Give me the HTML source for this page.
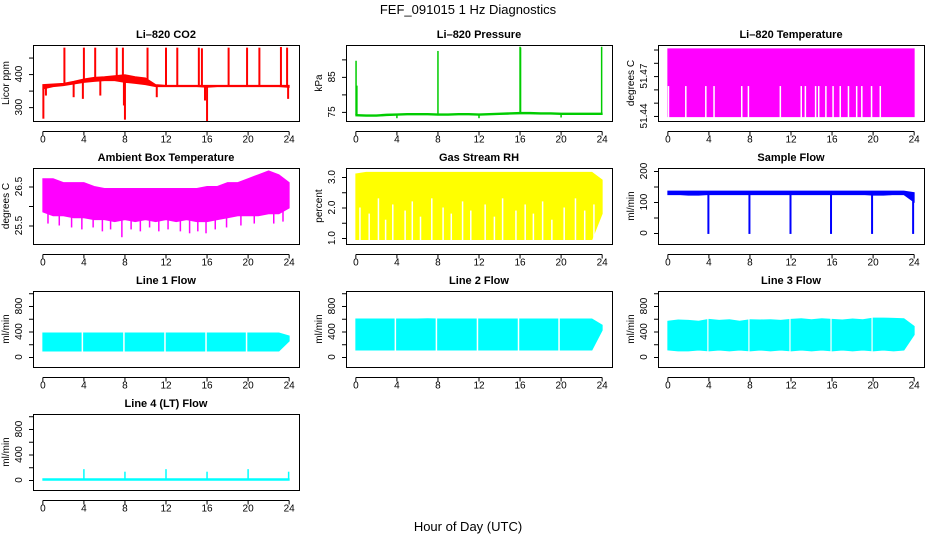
<!DOCTYPE html>
<html><head><meta charset="utf-8">
<style>
html,body{margin:0;padding:0;background:#fff;}
svg{display:block;font-family:"Liberation Sans",sans-serif;}
</style></head>
<body>
<svg id="chart" width="936" height="540" viewBox="0 0 936 540">
<text x="468" y="14" text-anchor="middle" font-size="13">FEF_091015  1 Hz Diagnostics</text>
<text x="468" y="531" text-anchor="middle" font-size="13">Hour of Day (UTC)</text>
</svg>
<script>
// ---- data ----
const hours = [0,1,2,3,4,5,6,7,8,9,10,11,12,13,14,15,16,17,18,19,20,21,22,23,24];
const xTicks = [0,4,8,12,16,20,24];

const co2Low  = [355,362,365,370,375,378,380,380,375,372,368,362,362,362,362,362,360,362,362,362,362,362,362,362,360];
const co2High = [368,370,372,378,385,390,392,395,398,392,388,368,366,366,366,366,366,366,366,366,366,366,366,366,366];
const co2SpikeT = [0.05,0.3,2.1,3.0,3.9,4.0,5.1,5.6,7.2,7.8,7.9,8.0,10.2,11.1,12.0,13.1,15.2,15.5,15.8,16.0,18.1,19.9,21.1,23.2,23.8,23.9];
const co2SpikeV = [265,335,480,330,325,480,480,335,480,480,305,262,480,330,480,480,480,478,320,258,480,480,480,482,480,325];

const presBase = [74.1,74.0,74.0,74.2,74.3,74.4,74.4,74.4,74.3,74.3,74.4,74.4,74.3,74.4,74.5,74.6,74.7,74.7,74.6,74.6,74.5,74.5,74.5,74.5,74.5];
const presSpikeT = [0.02,0.1,8.0,16.0,16.05,23.95,4.0,12.0,20.0];
const presSpikeV = [89.6,82.5,92.4,93.6,93.4,93.6,73.2,73.2,73.4];

const tempLow = 51.4395, tempHigh = 51.4905, tempGapTop = 51.4625;
const tempGapT = [0.06,1.75,3.7,4.5,7.2,7.85,10.96,13.0,13.4,14.4,14.7,15.4,16.1,16.8,17.6,18.4,18.9,19.85,20.7];

const ambHigh = [26.7,26.7,26.6,26.6,26.6,26.5,26.45,26.45,26.45,26.45,26.45,26.45,26.45,26.45,26.45,26.45,26.5,26.5,26.6,26.6,26.7,26.8,26.9,26.8,26.6];
const ambLow  = [25.85,25.75,25.75,25.7,25.7,25.65,25.65,25.6,25.65,25.6,25.65,25.6,25.65,25.6,25.65,25.6,25.6,25.65,25.7,25.75,25.75,25.75,25.8,25.8,25.95];
const ambSpikeT = [0.5,1.6,2.8,3.8,4.9,5.8,6.6,7.7,8.6,9.5,10.4,11.3,12.2,13.4,14.3,15.1,15.9,16.8,17.9,19.3,20.6,22.5,23.4];
const ambSpikeV = [25.55,25.5,25.45,25.4,25.45,25.35,25.4,25.2,25.4,25.35,25.45,25.35,25.4,25.35,25.3,25.35,25.3,25.4,25.45,25.5,25.55,25.55,25.6];

const rhHigh = [3.1,3.15,3.15,3.15,3.15,3.15,3.15,3.15,3.15,3.15,3.15,3.15,3.15,3.15,3.15,3.15,3.15,3.15,3.15,3.15,3.15,3.15,3.15,3.15,2.9];
const rhLow  = [0.95,0.95,0.95,0.95,0.95,0.95,0.95,0.95,0.95,0.95,0.95,0.95,0.95,0.95,0.95,0.95,0.95,0.95,0.95,0.95,0.95,0.95,0.95,0.95,1.8];
const rhGapT = [0.4,1.3,2.2,2.9,3.6,4.8,5.5,6.3,7.4,8.5,9.3,10.4,11.2,12.6,13.5,14.3,15.6,16.5,17.3,18.2,19.1,20.3,21.4,22.3,23.2];
const rhGapTop = [2.0,1.8,2.3,1.6,2.1,1.9,2.2,1.7,2.3,2.0,1.8,2.2,1.9,2.1,1.7,2.3,1.9,2.1,1.8,2.2,1.6,2.0,2.3,1.9,2.1];

const sfHigh = [135,135,135,135,135,135,135,135,135,135,135,135,135,135,135,135,135,135,135,135,135,135,135,135,130];
const sfLow  = [124,124,122,122,124,124,124,124,124,124,124,124,124,124,124,124,124,124,124,124,122,122,124,124,100];
const sfDipT = [3.95,7.95,11.95,15.9,19.9,23.9];
const sfDipV = [-3,-3,-3,-3,-3,-3];

const l1High = [376,376,376,376,376,376,376,376,376,376,376,376,376,376,376,376,376,376,376,376,376,376,376,376,330];
const l1Low  = [94,94,94,94,94,94,94,94,94,94,94,94,94,94,94,94,94,94,94,94,94,94,94,94,250];
const l1GapT = [3.85,7.9,11.9,15.9,19.85];

const l2High = [596,596,596,596,596,596,596,600,596,596,596,596,596,596,596,596,596,596,596,596,596,596,596,596,500];
const l2Low  = [110,110,110,110,110,110,110,110,110,110,110,110,110,110,110,110,110,110,110,110,110,110,110,110,420];
const l2GapT = [3.85,7.85,11.85,15.85,19.8];

const l3High = [560,580,575,560,590,575,585,560,585,580,585,575,590,600,585,600,590,580,595,585,610,610,605,600,480];
const l3Low  = [110,95,95,110,95,110,95,110,95,110,95,110,95,110,95,110,95,110,95,110,95,110,95,110,350];
const l3GapT = [3.9,7.9,11.9,15.9,19.9];

const l4Base = [20,20,20,20,20,20,20,20,20,20,20,20,20,20,20,20,20,20,20,20,20,20,20,20,20];
const l4SpikeT = [4.0,8.0,12.0,16.0,20.0,23.95];
const l4SpikeV = [170,130,170,130,170,130];

// ---- layout ----
const NS = "http://www.w3.org/2000/svg";
const svg = document.getElementById('chart');
const colLeft = [33,346,658], colW = 266, rowTop = [45,168,291,414], boxH = 76;
const XMIN = -0.96, XMAX = 24.96;

function mk(tag, attrs, parent){
  const e = document.createElementNS(NS, tag);
  for (const k in attrs) e.setAttribute(k, attrs[k]);
  (parent||svg).appendChild(e);
  return e;
}

function makePanel(col, row, title, ylab, ylim, yTicks, yLabels, name){
  const g = mk('g', {});
  
  
  const L = colLeft[col], T = rowTop[row];
  const P = {
    g, L, T,
    x: t => L + (t - XMIN) / (XMAX - XMIN) * colW,
    y: v => T + boxH - (v - ylim[0]) / (ylim[1] - ylim[0]) * boxH
  };
  const clip = mk('clipPath', {id: 'clip-' + name}, g);
  mk('rect', {x: L, y: T, width: colW, height: boxH}, clip);
  P.plot = mk('g', {'clip-path': 'url(#clip-' + name + ')'}, g);
  
  
  const tt = mk('text', {x: L + colW/2, y: T - 7, 'text-anchor': 'middle', 'font-size': 11, 'font-weight': 'bold'}, g);
  tt.textContent = title;
  
  
  const box = mk('rect', {x: L + 0.5, y: T + 0.5, width: colW, height: boxH, fill: 'none', stroke: '#000', 'stroke-width': 1}, g);
  
  
  const xa = mk('g', {}, g);
  
  
  const ay = T + boxH + 10.5;
  mk('line', {x1: P.x(0), x2: P.x(24), y1: ay, y2: ay, stroke: '#000'}, xa);
  xTicks.forEach(t => {
    mk('line', {x1: P.x(t), x2: P.x(t), y1: ay, y2: ay + 4, stroke: '#000'}, xa);
    const tx = mk('text', {x: P.x(t), y: ay + 11, 'text-anchor': 'middle', 'font-size': 10}, xa);
    tx.textContent = t;
  });
  const ya = mk('g', {}, g);
  
  
  yTicks.forEach(v => {
    mk('line', {x1: L - 4, x2: L, y1: P.y(v) + 0.5, y2: P.y(v) + 0.5, stroke: '#000'}, ya);
  });
  yLabels.forEach(v => {
    const yy = P.y(v);
    const tx = mk('text', {x: L - 11, y: yy, 'text-anchor': 'middle', 'font-size': 10, transform: 'rotate(-90 ' + (L - 11) + ' ' + yy + ')'}, ya);
    tx.textContent = String(v);
  });
  const lx = L - 24, ly = T + boxH/2;
  const yl = mk('text', {x: lx, y: ly, 'text-anchor': 'middle', 'font-size': 10, transform: 'rotate(-90 ' + lx + ' ' + ly + ')'}, g);
  yl.textContent = ylab;
  
  
  return P;
}

function band(P, lo, hi, color){
  let d = '';
  hours.forEach((t,i) => { d += (i ? 'L' : 'M') + P.x(t) + ',' + P.y(hi[i]); });
  for (let i = hours.length - 1; i >= 0; i--) d += 'L' + P.x(hours[i]) + ',' + P.y(lo[i]);
  const p = mk('path', {d: d + 'Z', fill: color, stroke: color, 'stroke-width': 1}, P.plot);
  
  
}
function vlines(P, ts, fromV, toV, color, w, nm){
  ts.forEach((t,i) => {
    const a = Array.isArray(fromV) ? fromV[i] : fromV;
    const b = Array.isArray(toV) ? toV[i] : toV;
    const l = mk('line', {x1: P.x(t), x2: P.x(t), y1: P.y(a), y2: P.y(b), stroke: color, 'stroke-width': w}, P.plot);
    
    
  });
}
function interp(arr, t){
  const i = Math.min(Math.floor(t), 23), f = t - i;
  return arr[i] * (1 - f) + arr[i + 1] * f;
}

let P = makePanel(0, 0, 'Li\u2013820 CO2', 'Licor ppm', [258,488], [300,350,400,450], [300,400], 'co2');
band(P, co2Low, co2High, '#ff0000');
vlines(P, co2SpikeT, co2SpikeT.map(t => interp(co2Low, t)), co2SpikeV, '#ff0000', 2, 'co2-spike');

P = makePanel(1, 0, 'Li\u2013820 Pressure', 'kPa', [72.4,94.1], [75,80,85,90], [75,85], 'pressure');
band(P, presBase.map(v => v - 0.25), presBase.map(v => v + 0.15), '#00cc00');
vlines(P, presSpikeT, presSpikeT.map(t => interp(presBase, t)), presSpikeV, '#00cc00', 1.5, 'pressure-spike');

P = makePanel(2, 0, 'Li\u2013820 Temperature', 'degrees C', [51.4362,51.4934], [51.44,51.45,51.46,51.47,51.48,51.49], [51.44,51.47], 'li820-temp');
band(P, hours.map(() => tempLow), hours.map(() => tempHigh), '#ff00ff');
vlines(P, tempGapT, tempLow - 0.001, tempGapTop, '#ffffff', 1.5, 'temp-gap');

P = makePanel(0, 1, 'Ambient Box Temperature', 'degrees C', [25.026,26.974], [25.5,26,26.5], [25.5,26.5], 'ambient-temp');
band(P, ambLow, ambHigh, '#ff00ff');
vlines(P, ambSpikeT, ambSpikeT.map(t => interp(ambLow, t)), ambSpikeV, '#ff00ff', 1.5, 'ambient-spike');

P = makePanel(1, 1, 'Gas Stream RH', 'percent', [0.803,3.295], [1,1.5,2,2.5,3], [1,2,3], 'rh');
band(P, rhLow, rhHigh, '#ffff00');
vlines(P, rhGapT, 0.9, rhGapTop, '#ffffff', 1.5, 'rh-gap');
P.g.querySelectorAll('text').forEach(tx => { if (/^[123]$/.test(tx.textContent)) tx.textContent = tx.textContent + '.0'; });

P = makePanel(2, 1, 'Sample Flow', 'ml/min', [-35.5,209.7], [0,50,100,150,200], [0,100,200], 'sample-flow');
band(P, sfLow, sfHigh, '#0000ff');
vlines(P, sfDipT, sfDipT.map(t => interp(sfLow, t)), sfDipV, '#0000ff', 2, 'sample-flow-dip');

const flowTicks = [0,200,400,600,800,1000], flowLabels = [0,400,800];
P = makePanel(0, 2, 'Line 1 Flow', 'ml/min', [-157,1035], flowTicks, flowLabels, 'line1-flow');
band(P, l1Low, l1High, '#00ffff');
vlines(P, l1GapT, 80, 390, '#ffffff', 1.5, 'line1-gap');

P = makePanel(1, 2, 'Line 2 Flow', 'ml/min', [-157,1035], flowTicks, flowLabels, 'line2-flow');
band(P, l2Low, l2High, '#00ffff');
vlines(P, l2GapT, 100, 610, '#ffffff', 1.5, 'line2-gap');

P = makePanel(2, 2, 'Line 3 Flow', 'ml/min', [-157,1035], flowTicks, flowLabels, 'line3-flow');
band(P, l3Low, l3High, '#00ffff');
vlines(P, l3GapT, 80, 620, '#ffffff', 1.2, 'line3-gap');

P = makePanel(0, 3, 'Line 4 (LT) Flow', 'ml/min', [-157,1035], flowTicks, flowLabels, 'line4-flow');
band(P, l4Base.map(v => v - 25), l4Base, '#00ffff');
vlines(P, l4SpikeT, 0, l4SpikeV, '#00ffff', 1.5, 'line4-spike');
</script>
</body></html>
